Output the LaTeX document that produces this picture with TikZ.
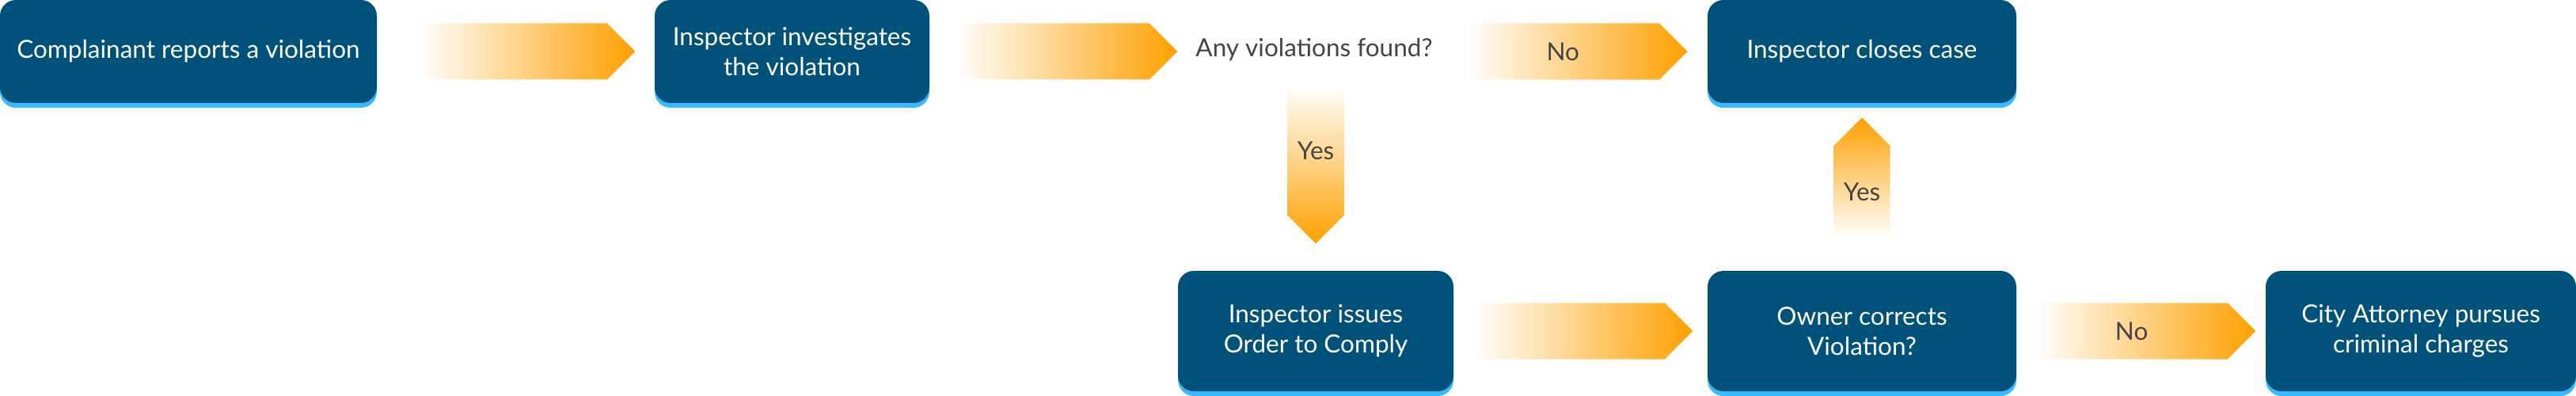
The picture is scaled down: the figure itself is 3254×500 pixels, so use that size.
\documentclass[tikz,border=0pt]{standalone}
\usepackage{xcolor}
\usepackage{fontspec}
\setmainfont{Lato}
\usepackage{tikz}
\usetikzlibrary{positioning, shapes.arrows, shadows}

\definecolor{boxblue}{RGB}{1,82,122}
\definecolor{boxedge}{RGB}{54,185,255}
\definecolor{flowor}{RGB}{255,160,0}
\definecolor{labelgrey}{RGB}{68,68,68}

\begin{document}
\begin{tikzpicture}[x=1pt, y=1pt, font=\fontsize{31.5}{38}\selectfont,
        stepbox/.style={rectangle, rounded corners=20pt, fill=boxblue, text=white, align=center,
                inner sep=0pt, minimum height=130pt, general shadow={fill=boxedge, shadow yshift=-6pt}},
        tall/.style={minimum height=152pt},
        flow/.style={single arrow, single arrow head extend=0pt, single arrow tip angle=90,
                minimum width=71pt, inner sep=0pt, text=labelgrey},
        flowright/.style={flow, left color=white, middle color=flowor!30, right color=flowor},
        flowdown/.style={flow, shape border rotate=270, top color=white, middle color=flowor!30, bottom color=flowor},
        flowup/.style={flow, shape border rotate=90, bottom color=white, middle color=flowor!30, top color=flowor}]
        \useasboundingbox (0,0) rectangle (3254,-500);

        \node[stepbox, minimum width=476pt] (report) at (238,-65) {Complainant reports a violation};
        \node[stepbox, minimum width=347pt] (inspect) at (1000.5,-65) {Inspector investigates\\the violation};
        \node[text=labelgrey, inner sep=0pt] (found) at (1660,-63) {Any violations found?};
        \node[stepbox, minimum width=390pt] (close) at (2352,-65) {Inspector closes case};
        \node[stepbox, tall, minimum width=348pt] (order) at (1662,-418) {Inspector issues\\Order to Comply};
        \node[stepbox, tall, minimum width=390pt] (correct) at (2352,-418) {Owner corrects\\Violation?};
        \node[stepbox, tall, minimum width=392pt] (attorney) at (3058,-418) {City Attorney pursues\\criminal charges};

        \node[flowright, minimum height=274pt] (a1) [right=52pt of report] {};
        \node[flowright, minimum height=279pt] (a2) [right=34pt of inspect] {};
        \node[flowright, minimum height=279pt] (a3) [left=25pt of close] {No};
        \node[flowdown, minimum height=198pt] (a4) [above=34pt of order] {Yes};
        \node[flowup, minimum height=152pt] (a5) [below=18pt of close] {Yes};
        \node[flowright, minimum height=276pt] (a6) [right=26pt of order] {};
        \node[flowright, minimum height=278pt] (a7) [right=24pt of correct] {No};

\end{tikzpicture}
\end{document}
